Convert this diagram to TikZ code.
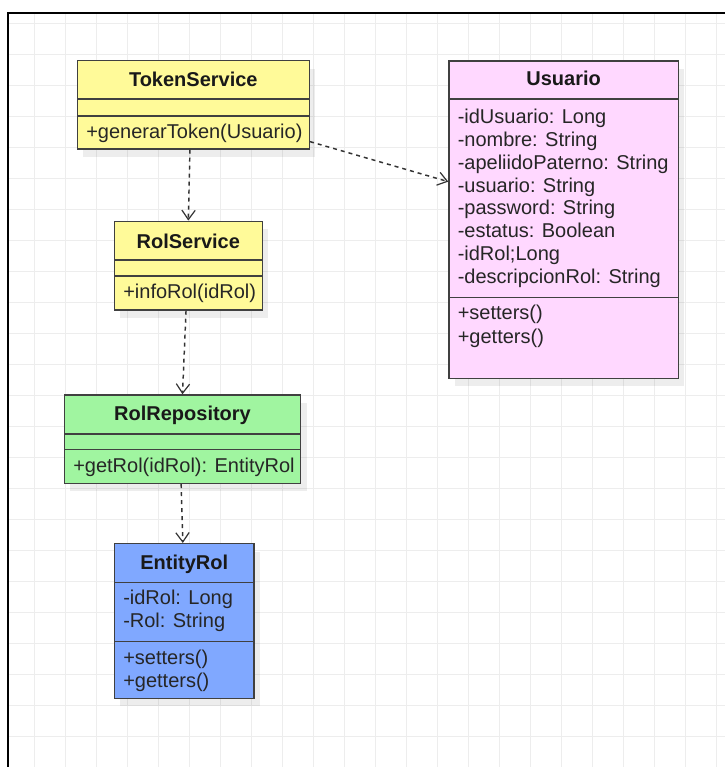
\documentclass[tikz,border=0pt]{standalone}
\usepackage{fontspec}
\setmainfont{Liberation Sans}
\usetikzlibrary{arrows.meta,fit,shadows}
\definecolor{svcyellow}{HTML}{FFFA99}
\definecolor{entpink}{HTML}{FFD8FF}
\definecolor{repogreen}{HTML}{A0F5A0}
\definecolor{entblue}{HTML}{80A8FF}
\begin{document}
\begin{tikzpicture}[x=0.75pt,y=-0.75pt,
  every node/.style={font=\fontsize{15pt}{17.25pt}\selectfont},
  classbox/.style={draw=black!75,line width=1.1pt,inner sep=0pt,
    drop shadow={shadow xshift=4.5pt,shadow yshift=-6pt,fill=black,opacity=0.07}},
  compart/.style={draw=black!75,line width=1.1pt},
  ctitle/.style={font=\fontsize{15pt}{17.25pt}\selectfont\bfseries,anchor=base,inner sep=0pt,text=black!90},
  member/.style={anchor=base west,inner sep=0pt,text=black!85},
  dep/.style={draw=black!80,line width=1.1pt,dash pattern=on 3pt off 3pt,
    -{Straight Barb[length=7pt,width=10pt,line width=0.9pt]}},
  gridline/.style={draw=black!7,line width=0.9pt},
  frameline/.style={draw=black,line width=1.7pt}]
\useasboundingbox (0,0) rectangle (725,767);

% background grid
\foreach \i in {1,...,23} \draw[gridline] (3.7+31*\i,13) -- (3.7+31*\i,767);
\foreach \i in {0,...,23} \draw[gridline] (8,23.7+31*\i) -- (725,23.7+31*\i);
\draw[frameline] (8.3,767) -- (8.3,12.7) -- (725,12.7);

% class boxes
\node[classbox,fill=svcyellow,fit={(77.3,60.7)(309.3,149)}] (tok) {};
\node[classbox,fill=svcyellow,fit={(114.3,221.3)(262.3,310)}] (rols) {};
\node[classbox,fill=entpink,fit={(449,61)(678.3,378.3)}] (usr) {};
\node[classbox,fill=repogreen,fit={(64.3,395)(300.7,483.3)}] (repo) {};
\node[classbox,fill=entblue,fit={(114.3,543.7)(254,698.3)}] (ent) {};

% compartment dividers
\draw[compart] (77.3,99) -- (309.3,99) (77.3,116) -- (309.3,116);
\draw[compart] (114.3,260) -- (262.3,260) (114.3,276) -- (262.3,276);
\draw[compart] (449,99) -- (678.3,99) (449,297.3) -- (678.3,297.3);
\draw[compart] (64.3,434) -- (300.7,434) (64.3,449.3) -- (300.7,449.3);
\draw[compart] (114.3,582.7) -- (254,582.7) (114.3,641.7) -- (254,641.7);

% TokenService
\node[ctitle] (tokT) at (193.3,86) {TokenService};
\node[member] (tokM) at (86,138.5) {+generarToken(Usuario)};

% RolService
\node[ctitle] (rolsT) at (188.3,248.2) {RolService};
\node[member] (rolsM) at (123,298.2) {+infoRol(idRol)};

% Usuario
\node[ctitle] (usrT) at (563.6,85.8) {Usuario};
\foreach \t [count=\i] in {-idUsuario: Long,-nombre: String,-apeliidoPaterno: String,
  -usuario: String,-password: String,-estatus: Boolean,-idRol;Long,-descripcionRol: String}
  \node[member] (usrA\i) at (457.5,123.2+22.94*\i-22.94) {\t};
\node[member] (usrM1) at (457.5,319.8) {+setters()};
\node[member] (usrM2) at (457.5,343.2) {+getters()};

% RolRepository
\node[ctitle] (repoT) at (182.5,420.8) {RolRepository};
\node[member] (repoM) at (73,472.2) {+getRol(idRol): EntityRol};

% EntityRol
\node[ctitle] (entT) at (184.2,569.8) {EntityRol};
\node[member] (entA1) at (123,604.2) {-idRol: Long};
\node[member] (entA2) at (123,627.5) {-Rol: String};
\node[member] (entM1) at (123,664.8) {+setters()};
\node[member] (entM2) at (123,687.5) {+getters()};

% dependencies
\draw[dep] ([xshift=-2.5pt]tok.south) -- (rols.north);
\draw[dep] ([xshift=-1.7pt]rols.south) -- (repo.north);
\draw[dep] ([xshift=-1pt]repo.south) -- ([xshift=-1pt]ent.north);
\draw[dep] ([yshift=-27.6pt]tok.east) -- ([yshift=28.5pt]usr.west);
\end{tikzpicture}
\end{document}
